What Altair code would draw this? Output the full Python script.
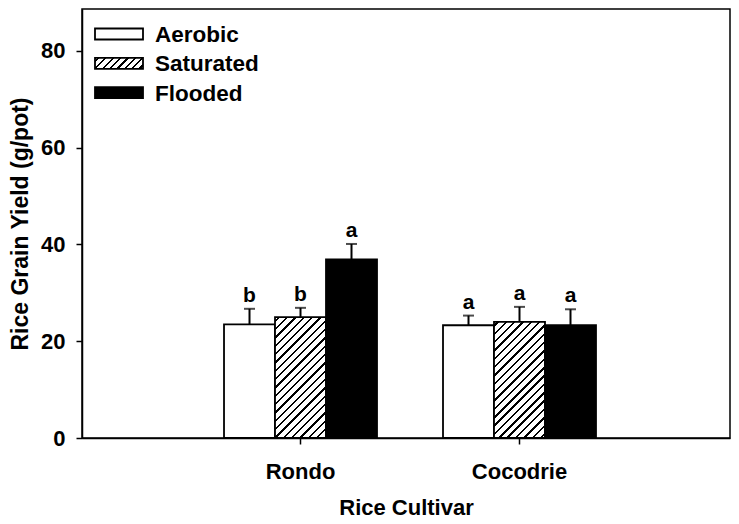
import math
import altair as alt
import pandas as pd

# ---------------- data ----------------
cultivars = ["Rondo", "Cocodrie"]
treatments = ["Aerobic", "Saturated", "Flooded"]
yield_rondo = [23.5, 25.0, 36.9]
yield_cocodrie = [23.3, 24.0, 23.3]
se_rondo = [3.2, 1.9, 3.2]
se_cocodrie = [2.0, 3.1, 3.3]
letters_rondo = ["b", "b", "a"]
letters_cocodrie = ["a", "a", "a"]
y_ticks = [0, 20, 40, 60, 80]

rows = []
for c, ys, ses, ls in [("Rondo", yield_rondo, se_rondo, letters_rondo),
                       ("Cocodrie", yield_cocodrie, se_cocodrie, letters_cocodrie)]:
    for t, m, s, l in zip(treatments, ys, ses, ls):
        rows.append({"cultivar": c, "treatment": t, "mean": m, "top": round(m + s, 2), "letter": l})
df = pd.DataFrame(rows)

# ---------------- layout ----------------
W, H = 648, 429
Y_MAX = 88.66
PX = H / Y_MAX
P_IN = 0.3014
STEP = 219.0
P_OUT = (W / STEP - 2 + P_IN) / 2
ALIGN = 142.0 / (2 * P_OUT * STEP)
BAR_W = STEP * (1 - P_IN) / 3
FONT = "Liberation Sans"


def hatch(w, h, period=5.9, lw=1.7):
    s = (1 / h + 1 / w) / (1 / h ** 2 + 1 / w ** 2)
    L = (w + h) / math.sqrt(2)
    stops = [{"offset": 0, "color": "white"}]
    k = 0
    while True:
        a = (k * period + (period - lw) / 2) / L
        if a >= 1:
            break
        b = min(a + lw / L, 1)
        a, b = round(a, 5), round(b, 5)
        stops += [{"offset": a, "color": "white"}, {"offset": a, "color": "black"},
                  {"offset": b, "color": "black"}, {"offset": b, "color": "white"}]
        k += 1
    stops.append({"offset": 1, "color": "white"})
    return {"gradient": "linear", "x1": 0, "y1": 0, "x2": round(s / h, 5), "y2": round(s / w, 5), "stops": stops}


x_enc = alt.X("cultivar:N", sort=cultivars,
              scale=alt.Scale(domain=cultivars, paddingInner=P_IN, paddingOuter=round(P_OUT, 4),
                              align=round(ALIGN, 4)),
              axis=alt.Axis(title="Rice Cultivar", labelAngle=0, bandPosition=0.5,
                            labelPadding=17, titlePadding=15, titleFontSize=22))
xo_enc = alt.XOffset("treatment:N", scale=alt.Scale(domain=treatments, paddingInner=0, paddingOuter=0))
y_axis = alt.Axis(values=y_ticks, title="Rice Grain Yield (g/pot)", labelPadding=11, titlePadding=8)
y_scale = alt.Scale(domain=[0, Y_MAX], nice=False, zero=True)
TITLE_Y = "Rice Grain Yield (g/pot)"


def yq(field):
    return alt.Y(field, type="quantitative", scale=y_scale, axis=y_axis, title=TITLE_Y)


base = alt.Chart(df).encode(x=x_enc, xOffset=xo_enc)

layers = []
layers.append(base.transform_filter(alt.datum.treatment == "Aerobic")
              .mark_bar(fill="white", stroke="black", strokeWidth=1.8).encode(y=yq("mean")))
for c, ys in [("Rondo", yield_rondo), ("Cocodrie", yield_cocodrie)]:
    hgt = ys[1] * PX
    layers.append(base.transform_filter((alt.datum.treatment == "Saturated") & (alt.datum.cultivar == c))
                  .mark_bar(fill=hatch(BAR_W, hgt), stroke="black", strokeWidth=1.8)
                  .encode(y=yq("mean")))
layers.append(base.transform_filter(alt.datum.treatment == "Flooded")
              .mark_bar(fill="black", stroke="black", strokeWidth=1.8).encode(y=yq("mean")))

layers.append(base.mark_rule(color="black", strokeWidth=2).encode(y=yq("mean"), y2="top:Q"))
layers.append(base.mark_tick(color="black", thickness=2, size=11, orient="horizontal").encode(y=yq("top")))
layers.append(base.mark_text(font=FONT, fontSize=21, fontWeight="bold", color="black",
                             baseline="alphabetic", dy=-7).encode(y=yq("top"), text="letter:N"))

# ---------------- legend ----------------
LEG_X0, LEG_X1, LEG_TX = 13, 61, 73
LEG_Y0, LEG_DY, BOX_H = 25, 29.3, 11
leg_fills = ["white", hatch(LEG_X1 - LEG_X0, BOX_H, period=5.2, lw=1.6), "black"]
for i, (name, fill) in enumerate(zip(treatments, leg_fills)):
    cy = LEG_Y0 + i * LEG_DY
    ldf = pd.DataFrame({"label": [name]})
    layers.append(alt.Chart(ldf).mark_rect(fill=fill, stroke="black", strokeWidth=1.8).encode(
        x=alt.value(LEG_X0), x2=alt.value(LEG_X1), y=alt.value(cy - BOX_H / 2), y2=alt.value(cy + BOX_H / 2)))
    layers.append(alt.Chart(ldf).mark_text(font=FONT, fontSize=22.5, fontWeight="bold", color="black",
                                           align="left", baseline="middle").encode(
        x=alt.value(LEG_TX), y=alt.value(cy + 1), text="label:N"))

chart = alt.layer(*layers).properties(
    width=W, height=H,
    background="white",
    autosize=alt.AutoSizeParams(type="none"),
    padding={"left": 74, "top": 1, "right": 1, "bottom": 95},
).configure_view(stroke="black", strokeWidth=1.5).configure_axis(
    labelFont=FONT, labelFontSize=22, labelFontWeight="bold", labelColor="black",
    titleFont=FONT, titleFontSize=23, titleFontWeight="bold", titleColor="black",
    domainColor="black", domainWidth=1.5, tickColor="black", tickWidth=1.5, tickSize=6,
    grid=False,
)

chart.save("out.html", embed_options={"renderer": "svg", "actions": False})
